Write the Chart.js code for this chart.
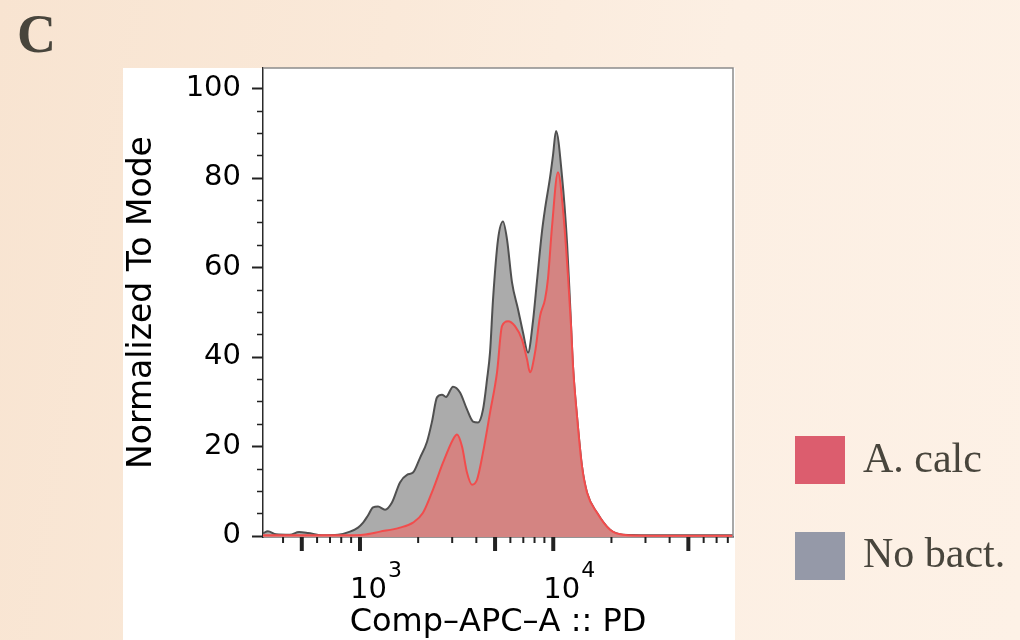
<!DOCTYPE html>
<html>
<head>
<meta charset="utf-8">
<script src="https://cdn.jsdelivr.net/npm/chart.js@4.4.1/dist/chart.umd.min.js"></script>
<style>
  html, body { margin: 0; padding: 0; }
  body {
    width: 1020px; height: 640px; position: relative; overflow: hidden;
    background: linear-gradient(100deg, #f8e4d1 0%, #fae9d9 35%, #fcefe3 65%, #fdf1e6 100%);
  }
  #c { position: absolute; left: 0; top: 0; }
  .serif { position: absolute; font-family: "Liberation Serif", "DejaVu Serif", serif; color: #48453c; line-height: 1; white-space: nowrap; }
  #panel { left: 17px; top: 7px; font-size: 54px; font-weight: bold; }
  .sw { position: absolute; width: 50px; height: 48px; }
</style>
</head>
<body>
<canvas id="c" width="1020" height="640"></canvas>
<div class="serif" id="panel">C</div>
<div class="sw" style="left:795px; top:436px; background:#dc5d6e;"></div>
<div class="serif" style="left:863px; top:437px; font-size:42px;">A. calc</div>
<div class="sw" style="left:795px; top:532px; background:#9599a8;"></div>
<div class="serif" style="left:863px; top:532px; font-size:42px;">No bact.</div>
<script>
// ---- data ----
const noBactIntensity = [315, 334, 368, 434, 484, 538, 636, 770, 888, 977, 1038, 1100, 1168, 1240, 1348, 1464, 1611, 1751, 1881, 2045, 2223, 2359, 2503, 2657, 2787, 3029, 3293, 3578, 3844, 4080, 4331, 4543, 4709, 4880, 5180, 5495, 5764, 6117, 6571, 6974, 7404, 7857, 8241, 8745, 9064, 9621, 9968, 10334, 11100, 11784, 12210, 12655, 13273, 14089, 14955, 16846, 19670, 22961, 31672, 57460, 85100];
const noBactValues    = [0.5, 1.0, 0.3, 0.2, 0.8, 0.6, 0.1, 0.2, 0.9, 1.8, 2.9, 4.5, 6.3, 6.5, 5.8, 7.4, 11.9, 13.6, 14.1, 17.4, 21.0, 25.5, 30.9, 31.5, 31.0, 33.3, 32.0, 28.2, 25.5, 25.3, 28.2, 34.9, 41.0, 52.8, 66.2, 70.2, 66.2, 56.6, 50.6, 45.4, 40.9, 48.0, 57.0, 68.0, 73.0, 80.0, 85.0, 90.4, 80.3, 65.5, 52.1, 37.8, 26.6, 15.4, 9.6, 5.1, 1.3, 0.2, 0.1, 0.1, 0.1];

const aCalcIntensity = [315, 434, 636, 888, 1038, 1270, 1611, 1881, 2119, 2387, 2689, 3029, 3177, 3373, 3578, 3798, 4032, 4331, 4709, 5117, 5429, 5832, 6341, 6892, 7316, 7580, 8046, 8540, 9064, 9393, 9851, 10580, 11230, 11924, 12354, 12655, 13273, 14089, 14955, 16846, 19670, 22961, 31672, 85100];
const aCalcValues    = [0.1, 0.1, 0.1, 0.1, 0.2, 0.9, 1.8, 2.9, 5.1, 10.3, 16.3, 21.5, 22.6, 19.9, 14.1, 11.4, 12.5, 18.6, 27.5, 36.5, 46.8, 47.9, 46.8, 43.8, 39.4, 36.5, 40.9, 49.0, 52.8, 57.5, 69.0, 81.2, 72.9, 57.9, 47.0, 37.8, 26.6, 15.4, 9.6, 5.1, 1.3, 0.2, 0.0, 0.0];

const seriesNames = ['A. calc', 'No bact.'];
const yTickValues = [0, 20, 40, 60, 80, 100];
const yMinorTickValues = [0, 5, 10, 15, 20, 25, 30, 35, 40, 45, 50, 55, 60, 65, 70, 75, 80, 85, 90, 95, 100];
const xTickValues = [400, 500, 600, 700, 800, 900, 1000, 2000, 3000, 4000, 5000, 6000, 7000, 8000, 9000, 10000, 20000, 30000, 40000, 50000, 60000, 70000, 80000];
const xLabelValues = [1000, 10000];
const xLabelBase = ['10', '10'];
const xLabelExponents = ['3', '4'];
const xTitle = 'Comp\u2013APC\u2013A :: PD';
const yTitle = 'Normalized To Mode';

const toPoints = (xs, ys) => xs.map((x, i) => ({ x: x, y: ys[i] }));

const decorPlugin = {
  id: 'decor',
  beforeDraw(chart) {
    const ctx = chart.ctx;
    ctx.save();
    ctx.fillStyle = '#ffffff';
    ctx.fillRect(123, 68, chart.chartArea.right + 2 - 123, 640 - 68);
    ctx.restore();
  },
  afterDraw(chart) {
    const ctx = chart.ctx;
    const area = chart.chartArea;
    const xs = chart.scales.x, ys = chart.scales.y;
    ctx.save();
    // top / right frame
    ctx.strokeStyle = '#8c8c8c';
    ctx.lineWidth = 1.5;
    ctx.beginPath();
    ctx.moveTo(area.left, area.top);
    ctx.lineTo(area.right, area.top);
    ctx.lineTo(area.right, area.bottom);
    ctx.stroke();
    // y tick marks
    ctx.strokeStyle = '#222';
    yMinorTickValues.forEach(v => {
      const py = Math.round(ys.getPixelForValue(v)) + 0.5;
      const major = v % 20 === 0;
      ctx.lineWidth = major ? 2 : 1.5;
      ctx.beginPath();
      ctx.moveTo(area.left - (major ? 11 : 6), py);
      ctx.lineTo(area.left, py);
      ctx.stroke();
    });
    // x tick marks
    xTickValues.forEach(v => {
      const px = xs.getPixelForValue(v);
      const sig = v / Math.pow(10, Math.floor(Math.log10(v) + 1e-9));
      const major = Math.abs(sig - 1) < 1e-6 || Math.abs(sig - 5) < 1e-6;
      ctx.lineWidth = major ? 4 : 2;
      ctx.beginPath();
      ctx.moveTo(px, area.bottom);
      ctx.lineTo(px, area.bottom + (major ? 14 : 6));
      ctx.stroke();
    });
    // x tick labels with superscripts
    ctx.fillStyle = '#000';
    ctx.textBaseline = 'alphabetic';
    ctx.textAlign = 'left';
    xLabelValues.forEach((v, i) => {
      const px = xs.getPixelForValue(v);
      ctx.font = '29px "DejaVu Sans"';
      ctx.fillText(xLabelBase[i], px - 10, 598);
      ctx.font = '22px "DejaVu Sans"';
      ctx.fillText(xLabelExponents[i], px + 28, 577);
    });
    ctx.restore();
  }
};

new Chart(document.getElementById('c'), {
  type: 'line',
  data: {
    datasets: [
      {
        label: seriesNames[0],
        data: toPoints(aCalcIntensity, aCalcValues),
        borderColor: '#f24c4c',
        backgroundColor: 'rgb(212,132,130)',
        borderWidth: 2,
        fill: 'start',
        pointRadius: 0,
        cubicInterpolationMode: 'monotone'
      },
      {
        label: seriesNames[1],
        data: toPoints(noBactIntensity, noBactValues),
        borderColor: '#505050',
        backgroundColor: '#ababab',
        borderWidth: 2,
        fill: 'start',
        pointRadius: 0,
        cubicInterpolationMode: 'monotone'
      }
    ]
  },
  options: {
    responsive: false,
    animation: false,
    devicePixelRatio: 1,
    layout: { padding: { left: 123, top: 68, right: 287, bottom: 0 } },
    plugins: { legend: { display: false }, tooltip: { enabled: false } },
    scales: {
      x: {
        type: 'logarithmic',
        min: 315,
        max: 85100,
        afterBuildTicks: s => { s.ticks = xTickValues.map(v => ({ value: v })); },
        afterFit: s => { s.height = 103; },
        ticks: { display: false },
        grid: { drawOnChartArea: false, drawTicks: false },
        border: { display: true, color: '#2a2a2a', width: 1.5 },
        title: { display: true, text: xTitle, color: '#000', font: { family: 'DejaVu Sans', size: 32 }, padding: { top: 0, bottom: -2 } }
      },
      y: {
        type: 'linear',
        min: -0.3,
        max: 104.5,
        afterBuildTicks: s => { s.ticks = yTickValues.map(v => ({ value: v })); },
        afterFit: s => { s.width = 140; },
        ticks: { color: '#000', font: { family: 'DejaVu Sans', size: 29 }, padding: 22 },
        grid: { drawOnChartArea: false, drawTicks: false },
        border: { display: true, color: '#2a2a2a', width: 1.5 },
        title: { display: true, text: yTitle, color: '#000', font: { family: 'DejaVu Sans', size: 33 }, padding: { top: 0, bottom: 0 } }
      }
    }
  },
  plugins: [decorPlugin]
});
</script>
</body>
</html>
